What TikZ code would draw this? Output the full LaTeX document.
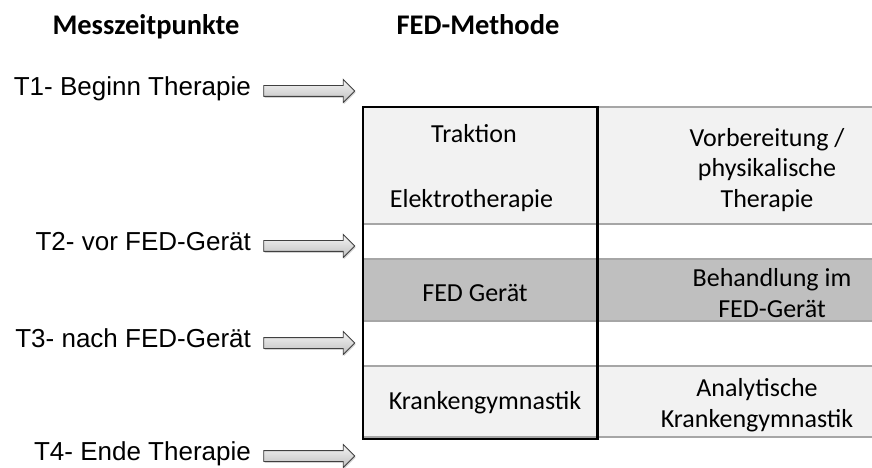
\documentclass[tikz,border=0pt]{standalone}
\usepackage{fontspec}
\setmainfont{Carlito}
\newfontfamily\arialfont{Liberation Sans}
\usetikzlibrary{positioning,shapes.arrows,shadows}
\definecolor{zeilehell}{HTML}{F2F2F2}
\definecolor{zeiledunkel}{HTML}{BFBFBF}
\definecolor{zeilelinie}{HTML}{A6A6A6}

\begin{document}
\begin{tikzpicture}[font=\fontsize{14.8}{17.6}\selectfont,node distance=2.4mm,
  kopf/.style={font=\fontsize{16.2}{19}\selectfont\bfseries,anchor=base},
  zeit/.style={font=\arialfont\fontsize{14.8}{17.6}\selectfont,inner sep=0pt,text height=0.72em,text depth=0.21em},
  pfeil/.style={single arrow,draw=black!75,line width=0.5pt,top color=gray!8,bottom color=gray!50,minimum height=18.2mm,minimum width=4.4mm,single arrow head extend=1.2mm,inner xsep=0pt,inner ysep=1mm,drop shadow={shadow xshift=0.5pt,shadow yshift=-0.8pt,opacity=0.35}},
  zelle/.style={align=center,inner sep=0pt},
  linie/.style={draw=zeilelinie,line width=0.9pt}]
\useasboundingbox (0,0) rectangle (17.44,-9.36);
% Zeilen der Tabelle
\fill[zeilehell] (7.26,-2.14) rectangle (17.44,-4.48);
\fill[zeiledunkel] (7.26,-5.18) rectangle (17.44,-6.42);
\fill[zeilehell] (7.26,-7.32) rectangle (17.44,-8.74);
\foreach \y in {-2.14,-4.48,-5.18,-6.42,-7.32,-8.74}
  \draw[linie] (7.26,\y) -- (17.44,\y);
\draw[line width=1.7pt] (7.26,-2.14) rectangle (11.94,-8.78);
% Kopfzeile
\node[kopf] (messzeit) at (2.92,-0.70) {Messzeitpunkte};
\node[kopf] (methode) at (9.56,-0.70) {FED-Methode};
% Messzeitpunkte mit Pfeilen
\node[pfeil] (pfeilA) at (6.13,-1.82) {};
\node[pfeil] (pfeilB) at (6.13,-4.92) {};
\node[pfeil] (pfeilC) at (6.13,-6.86) {};
\node[pfeil] (pfeilD) at (6.13,-9.12) {};
\node[zeit,left=of pfeilA] (zeitA) {T1- Beginn Therapie};
\node[zeit,left=of pfeilB] (zeitB) {T2- vor FED-Gerät};
\node[zeit,left=of pfeilC] (zeitC) {T3- nach FED-Gerät};
\node[zeit,left=of pfeilD] (zeitD) {T4- Ende Therapie};
% Inhalte der Zellen
\node[zelle,anchor=base] (traktion) at (9.48,-2.86) {Traktion};
\node[zelle,anchor=base] (elektro) at (9.43,-4.16) {Elektrotherapie};
\node[zelle,anchor=base] (fedgeraet) at (9.50,-6.02) {FED Gerät};
\node[zelle,anchor=base] (kgym) at (9.70,-8.18) {Krankengymnastik};
\node[zelle] (vorbereitung) at (15.34,-3.40) {Vorbereitung /\\physikalische\\Therapie};
\node[zelle] (behandlung) at (15.44,-5.86) {Behandlung im\\FED-Gerät};
\node[zelle] (analytisch) at (15.14,-8.10) {Analytische\\Krankengymnastik};
\end{tikzpicture}
\end{document}
